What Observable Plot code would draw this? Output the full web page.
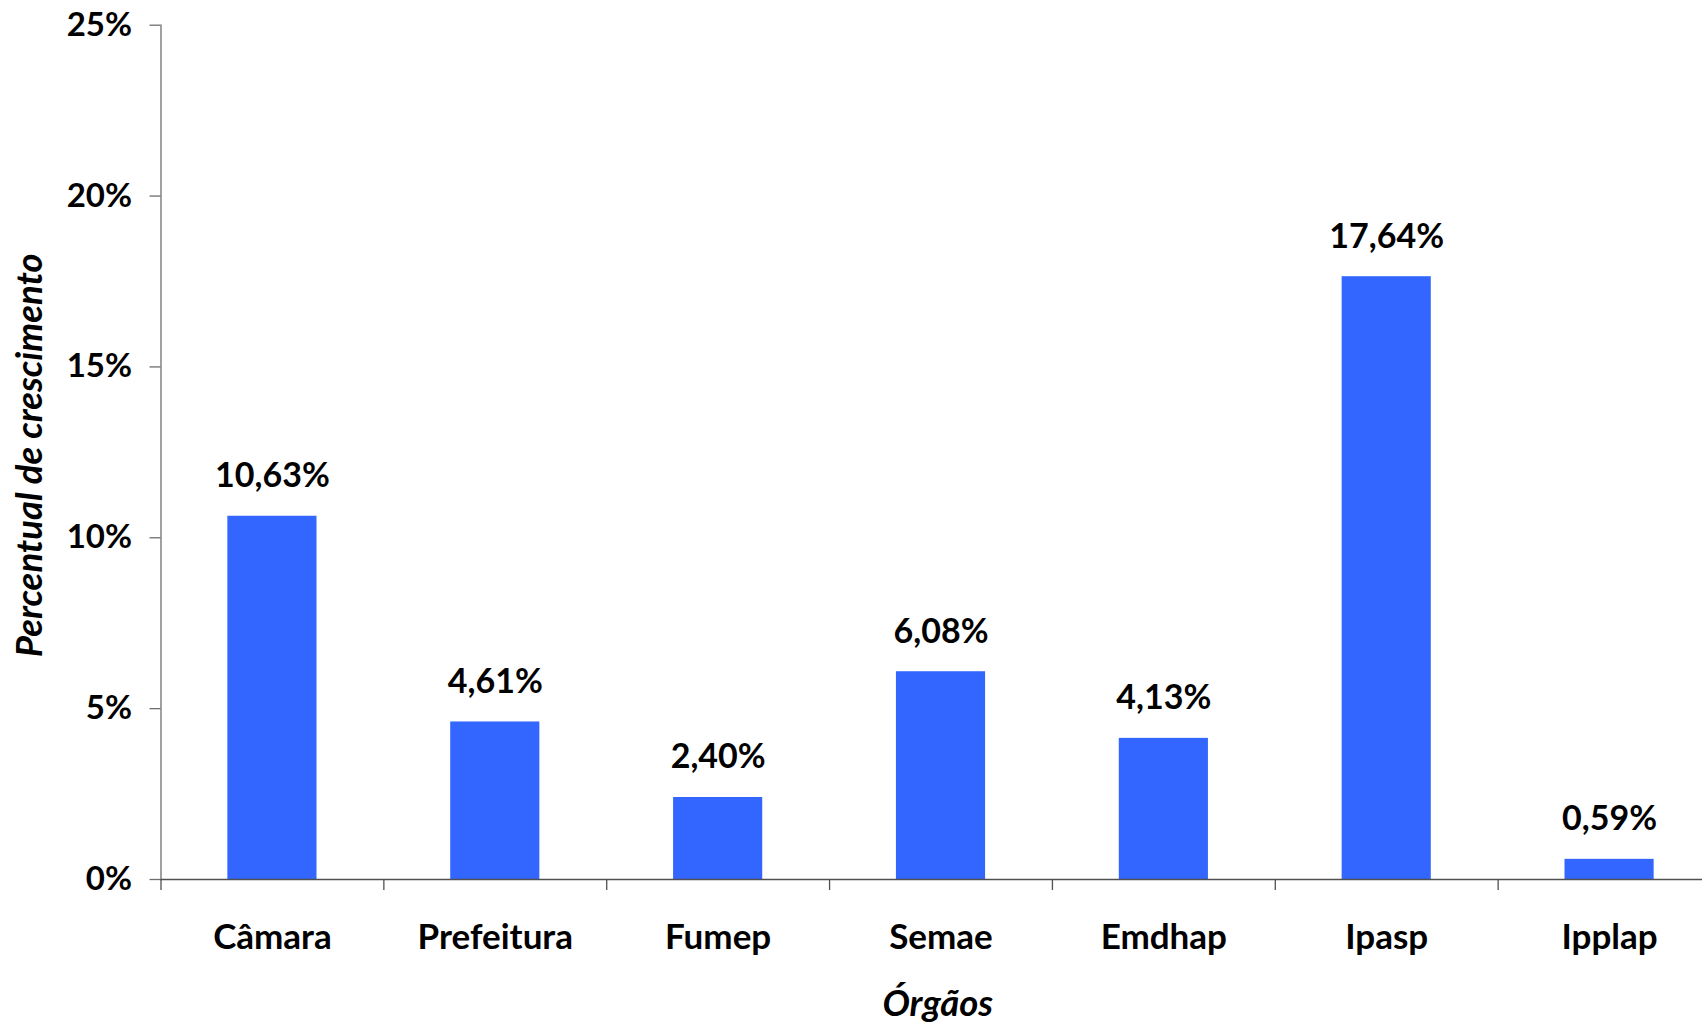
<!DOCTYPE html>
<html>
<head>
<meta charset="utf-8">
<script src="https://cdn.jsdelivr.net/npm/d3@7"></script>
<script src="https://cdn.jsdelivr.net/npm/@observablehq/plot@0.6"></script>
<style>
  html, body { margin: 0; padding: 0; background: #fff; }
  #chart svg { display: block; }
</style>
</head>
<body>
<div id="chart"></div>
<script>
const orgaos = ["Câmara", "Prefeitura", "Fumep", "Semae", "Emdhap", "Ipasp", "Ipplap"];
const crescimento = [10.63, 4.61, 2.40, 6.08, 4.13, 17.64, 0.59];
const yTicks = [0, 5, 10, 15, 20, 25];
const yTitle = "Percentual de crescimento";
const xTitle = "Órgãos";

const data = orgaos.map((o, i) => ({orgao: o, valor: crescimento[i]}));
const fmt = v => v.toFixed(2).replace(".", ",") + "%";

const W = 1702, H = 1023;
const mLeft = 160.5, mTop = 24.7, mBottom = H - 879;
const xRange = [mLeft, 1720.5];
const step = (xRange[1] - xRange[0]) / orgaos.length;
const font = "Lato, 'Open Sans', sans-serif";

const chart = Plot.plot({
  width: W,
  height: H,
  marginLeft: mLeft,
  marginRight: 0,
  marginTop: mTop,
  marginBottom: mBottom,
  style: {fontFamily: font, background: "#fff", color: "#000", overflow: "visible"},
  x: {domain: orgaos, range: xRange, paddingInner: 0.6, paddingOuter: 0.3, round: false},
  y: {domain: [0, 25], ticks: yTicks},
  marks: [
    Plot.barY(data, {x: "orgao", y: "valor", fill: "#3366FF"}),
    Plot.frame({anchor: "left", stroke: "#6e6e6e", strokeWidth: 1.3}),
    Plot.ruleY([0], {stroke: "#505050", strokeWidth: 1.3}),
    Plot.axisY({
      ticks: yTicks, tickSize: 11, tickPadding: 18, tickFormat: d => d + "%",
      fontSize: 33, fontWeight: "bold", label: null, stroke: "#6e6e6e", strokeWidth: 1.3
    }),
    Plot.axisX({
      ticks: orgaos, tickSize: 11, text: null, dx: -step / 2, label: null,
      stroke: "#505050", strokeWidth: 1.3
    }),
    Plot.axisX({
      ticks: orgaos, tickSize: 0, tickPadding: 45, fontSize: 35, fontWeight: "bold", label: null
    }),
    Plot.text(data, {
      x: "orgao", y: "valor", text: d => fmt(d.valor), dy: -40, lineAnchor: "middle",
      fontSize: 34, fontWeight: "bold", fill: "#000"
    }),
    Plot.text([yTitle], {
      frameAnchor: "left", rotate: -90, dx: -131, dy: 3, text: d => d, lineAnchor: "middle",
      textAnchor: "middle", fontSize: 36.5, fontWeight: "bold", fontStyle: "italic", fill: "#000"
    }),
    Plot.text([xTitle], {
      frameAnchor: "bottom", dy: 125, dx: 6, text: d => d, lineAnchor: "middle",
      textAnchor: "middle", fontSize: 36.5, fontWeight: "bold", fontStyle: "italic", fill: "#000"
    })
  ]
});
document.getElementById("chart").appendChild(chart);
</script>
</body>
</html>
